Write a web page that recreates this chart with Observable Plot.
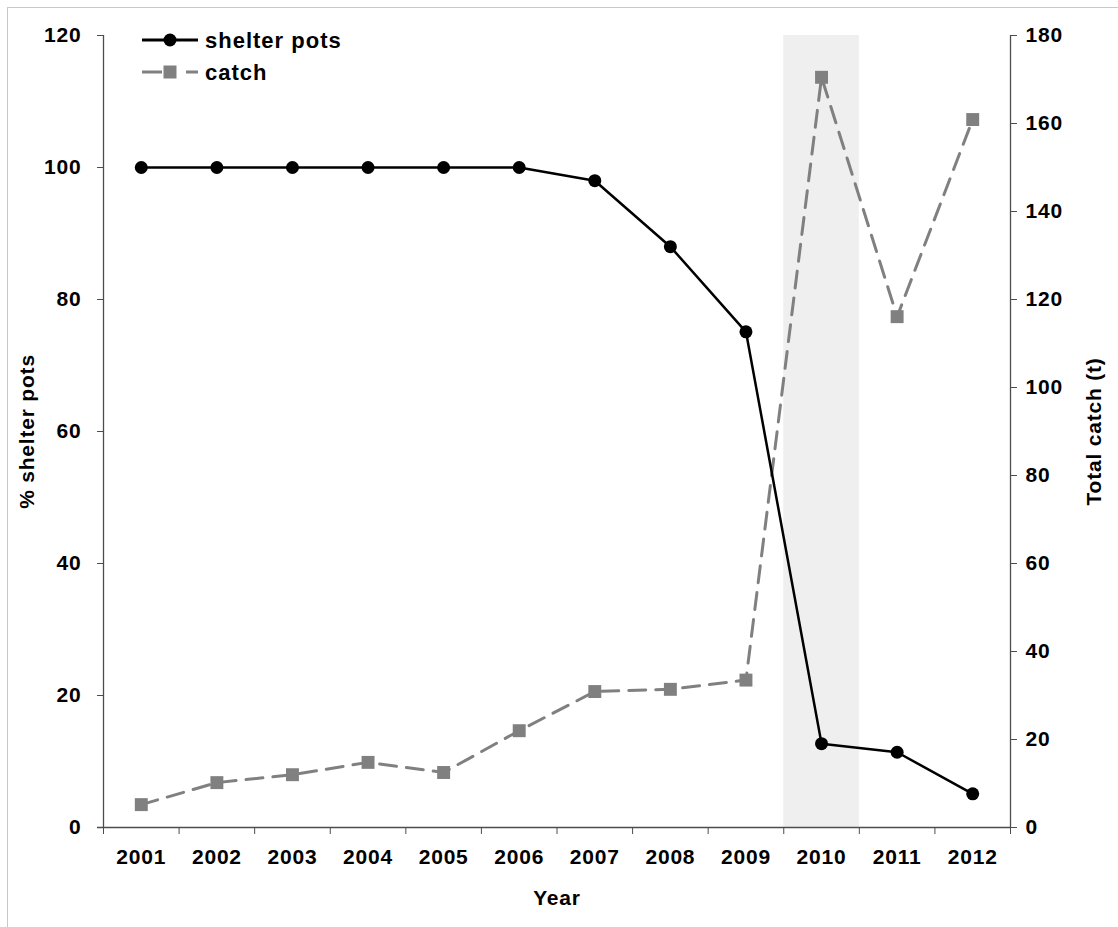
<!DOCTYPE html>
<html>
<head>
<meta charset="utf-8">
<script src="https://cdn.jsdelivr.net/npm/d3@7"></script>
<script src="https://cdn.jsdelivr.net/npm/@observablehq/plot@0.6"></script>
<style>
  html, body { margin: 0; padding: 0; background: #fff; overflow: hidden; }
  #wrap { position: relative; width: 1118px; height: 927px; overflow: hidden; }
  #wrap > svg { display: block; }
  #border { position: absolute; left: 7px; top: 7px; width: 1111px; height: 920px;
            border-left: 1px solid #c8c8c8; border-top: 1px solid #c8c8c8; pointer-events: none; box-sizing: border-box; }
  svg text { font-family: "Liberation Sans", Arial, sans-serif; font-weight: bold; }
</style>
</head>
<body>
<div id="wrap"><div id="border"></div></div>
<script>
const years = [2001, 2002, 2003, 2004, 2005, 2006, 2007, 2008, 2009, 2010, 2011, 2012];
const shelterPots = [100, 100, 100, 100, 100, 100, 98.0, 88.0, 75.1, 12.7, 11.4, 5.1];
const catchT = [5.2, 10.2, 12.0, 14.8, 12.5, 22.0, 30.9, 31.4, 33.5, 170.5, 116.1, 160.9];
const leftTicks = [0, 20, 40, 60, 80, 100, 120];
const rightTicks = [0, 20, 40, 60, 80, 100, 120, 140, 160, 180];
const shadedYears = [2010];
const seriesNames = ["shelter pots", "catch"];
const xTitle = "Year";
const leftTitle = "% shelter pots";
const rightTitle = "Total catch (t)";

const leftMax = 120, rightMax = 180;
const k = leftMax / rightMax; // catch -> left-scale units

const rows = years.map((y, i) => ({year: y, pots: shelterPots[i], catchScaled: catchT[i] * k}));
const bounds = years.map(y => y - 0.5).concat([years[years.length - 1] + 0.5]);
const x0 = bounds[0], x1 = bounds[bounds.length - 1];

const font = {fontSize: 21, fontWeight: "bold"};
const axisColor = "#4d4d4d";

const chart = Plot.plot({
  width: 1118,
  height: 927,
  marginLeft: 103,
  marginRight: 108,
  marginTop: 35,
  marginBottom: 100,
  style: {fontFamily: "'Liberation Sans', Arial, sans-serif", fontSize: "21px", fontWeight: "bold", letterSpacing: "0.8px", color: "#000", background: "transparent"},
  x: {domain: [x0, x1], axis: null},
  y: {domain: [0, leftMax], axis: null},
  marks: [
    Plot.rect(shadedYears, {x1: d => d - 0.5, x2: d => d + 0.5, y1: 0, y2: leftMax, fill: "#efefef"}),
    // left axis
    Plot.axisY({anchor: "left", ticks: leftTicks, tickSize: 6, tickPadding: 16, label: null, stroke: axisColor, fill: "#000", ...font}),
    // right axis
    Plot.axisY({anchor: "right", ticks: rightTicks.map(v => v * k), tickFormat: v => String(Math.round(v / k)), tickSize: 6, tickPadding: 9, label: null, stroke: axisColor, fill: "#000", ...font}),
    // bottom tick marks at band boundaries
    Plot.axisX({ticks: bounds, tickFormat: () => "", tickSize: 7, label: null, stroke: axisColor}),
    // year labels centered in bands
    Plot.axisX({ticks: years, tickFormat: d => String(d), tickSize: 0, tickPadding: 22, label: null, fill: "#000", ...font}),
    Plot.ruleX([x0, x1], {stroke: axisColor, strokeWidth: 1.3}),
    Plot.ruleY([0], {x1: x0 - 0.08, x2: x1, stroke: axisColor, strokeWidth: 1.3}),
    // catch series (dashed grey, squares)
    Plot.line(rows, {x: "year", y: "catchScaled", stroke: "#808080", strokeWidth: 3, strokeDasharray: "17,10"}),
    Plot.dot(rows, {x: "year", y: "catchScaled", symbol: "square", r: 7.3, fill: "#808080", stroke: "none"}),
    // shelter pots series (black line, circles)
    Plot.line(rows, {x: "year", y: "pots", stroke: "#000", strokeWidth: 2.5}),
    Plot.dot(rows, {x: "year", y: "pots", r: 6.5, fill: "#000", stroke: "none"}),
    // axis titles
    Plot.text([xTitle], {frameAnchor: "bottom", dy: 77, textAnchor: "middle", fontSize: 21, fontWeight: "bold", fill: "#000"}),
    Plot.text([leftTitle], {frameAnchor: "left", dx: -76, rotate: -90, textAnchor: "middle", fontSize: 21, fontWeight: "bold", fill: "#000"}),
    Plot.text([rightTitle], {frameAnchor: "right", dx: 84, rotate: -90, textAnchor: "middle", fontSize: 21, fontWeight: "bold", fill: "#000"})
  ]
});

document.getElementById("wrap").prepend(chart);

// legend (top-left, inside the plot)
const svg = d3.select(chart);
const lg = svg.append("g").attr("class", "legend").attr("text-anchor", "start");
const rowsY = [40, 72];
// shelter pots
lg.append("line").attr("x1", 142).attr("x2", 198).attr("y1", rowsY[0]).attr("y2", rowsY[0])
  .attr("stroke", "#000").attr("stroke-width", 3);
lg.append("circle").attr("cx", 170).attr("cy", rowsY[0]).attr("r", 6.5).attr("fill", "#000");
// catch
lg.append("line").attr("x1", 142).attr("x2", 198).attr("y1", rowsY[1]).attr("y2", rowsY[1])
  .attr("stroke", "#808080").attr("stroke-width", 3).attr("stroke-dasharray", "20,24,12");
lg.append("rect").attr("x", 163.5).attr("y", rowsY[1] - 6.5).attr("width", 13).attr("height", 13).attr("fill", "#808080");
seriesNames.forEach((name, i) => {
  lg.append("text").attr("x", 205).attr("y", rowsY[i]).attr("dy", "0.35em")
    .attr("text-anchor", "start")
    .style("font-size", "22px").style("font-weight", "bold").style("letter-spacing", "1px")
    .attr("fill", "#000").text(name);
});
</script>
</body>
</html>
